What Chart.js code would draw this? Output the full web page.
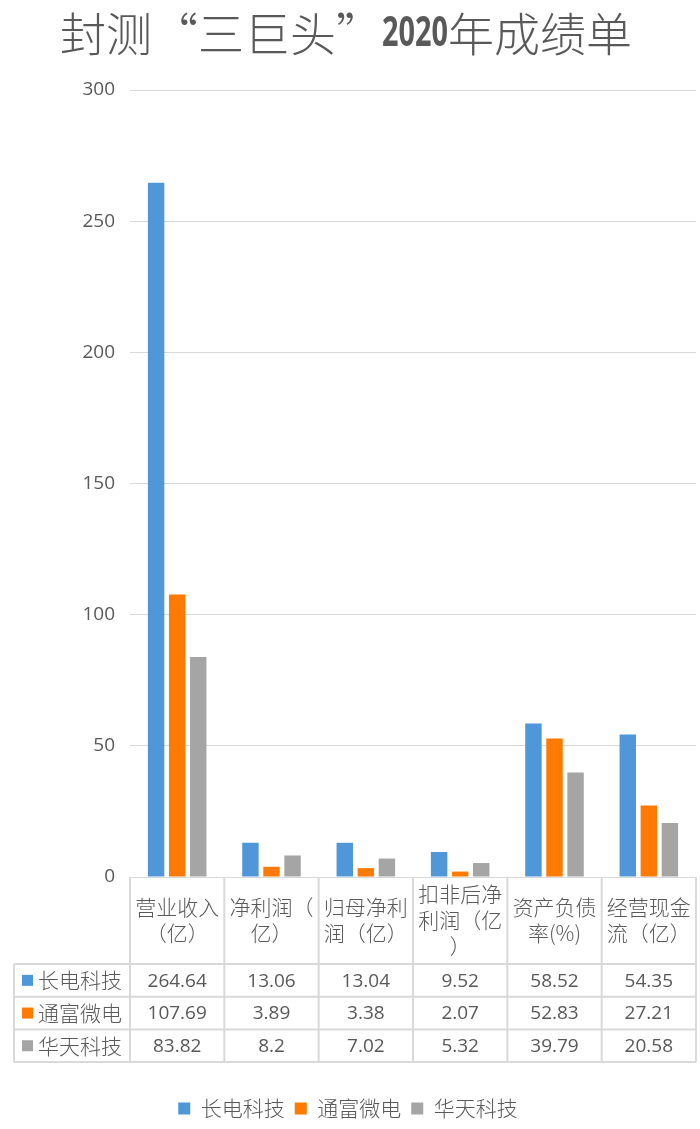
<!DOCTYPE html>
<html lang="zh">
<head>
<meta charset="UTF-8">
<title>封测“三巨头”2020年成绩单</title>
<script src="https://cdn.jsdelivr.net/npm/chart.js"></script>
<style>
  body { margin: 0; background: #fff; }
</style>
</head>
<body>
<canvas id="chart" width="700" height="1129"></canvas>
<script>
// chart data
const titleParts = ['封测“三巨头”', '2020', '年成绩单'];
const categories = ['营业收入（亿）', '净利润（亿）', '归母净利润（亿）', '扣非后净利润（亿）', '资产负债率(%)', '经营现金流（亿）'];
const companies = ['长电科技', '通富微电', '华天科技'];
const changdian = [264.64, 13.06, 13.04, 9.52, 58.52, 54.35];
const tongfu = [107.69, 3.89, 3.38, 2.07, 52.83, 27.21];
const huatian = [83.82, 8.2, 7.02, 5.32, 39.79, 20.58];
const yTicks = [0, 50, 100, 150, 200, 250, 300];

const colors = ['#4f97d9', '#ff7a00', '#a5a5a5'];
const textColor = '#595959';
const lineColor = '#d9d9d9';
const cjk = "'Noto Sans CJK SC', sans-serif";
const latin = "'Open Sans', 'Noto Sans CJK SC', sans-serif";
const CHART_BOTTOM = 877;

// title with bold "2020"
const titlePlugin = {
  id: 'mixedTitle',
  afterDraw(chart) {
    const ctx = chart.ctx;
    const fonts = ['300 46px ' + cjk, 'bold 42px ' + latin, '300 46px ' + cjk];
    const maxW = [null, 66, null];
    ctx.save();
    ctx.fillStyle = textColor;
    ctx.textBaseline = 'middle';
    ctx.textAlign = 'left';
    const widths = titleParts.map((t, i) => {
      ctx.font = fonts[i];
      const w = ctx.measureText(t).width;
      return maxW[i] ? Math.min(w, maxW[i]) : w;
    });
    let x = 346 - widths.reduce((a, b) => a + b, 0) / 2;
    titleParts.forEach((t, i) => {
      ctx.font = fonts[i];
      if (maxW[i]) ctx.fillText(t, x, 34, maxW[i]);
      else ctx.fillText(t, x, 34);
      x += widths[i];
    });
    ctx.restore();
  }
};

// wrap a label into lines that fit the cell width
function wrapText(ctx, text, maxWidth) {
  const lines = [];
  let line = '';
  for (const ch of text) {
    if (line && ctx.measureText(line + ch).width > maxWidth) {
      lines.push(line);
      line = ch;
    } else {
      line += ch;
    }
  }
  if (line) lines.push(line);
  return lines;
}

// data table under the x axis
const tablePlugin = {
  id: 'dataTable',
  afterDraw(chart) {
    const { ctx, chartArea } = chart;
    const series = chart.data.datasets;
    const colW = (chartArea.right - chartArea.left) / categories.length;
    const top = chartArea.bottom;
    const headBottom = top + 87;
    const rowH = 32.7;
    const tableLeft = 14;
    const bottom = headBottom + rowH * series.length;

    ctx.save();
    ctx.strokeStyle = lineColor;
    ctx.lineWidth = 2;

    // vertical lines
    for (let i = 0; i <= categories.length; i++) {
      const x = chartArea.left + i * colW;
      ctx.beginPath();
      ctx.moveTo(x, top);
      ctx.lineTo(x, bottom);
      ctx.stroke();
    }
    ctx.beginPath();
    ctx.moveTo(tableLeft, headBottom);
    ctx.lineTo(tableLeft, bottom);
    ctx.stroke();

    // horizontal lines
    for (let r = 0; r <= series.length; r++) {
      const y = headBottom + r * rowH;
      ctx.beginPath();
      ctx.moveTo(tableLeft, y);
      ctx.lineTo(chartArea.right, y);
      ctx.stroke();
    }

    ctx.fillStyle = textColor;
    ctx.textBaseline = 'middle';

    // header labels
    ctx.font = '300 21px ' + cjk;
    ctx.textAlign = 'center';
    const lh = 26;
    categories.forEach((c, i) => {
      const cx = chartArea.left + (i + 0.5) * colW;
      const lines = wrapText(ctx, c, colW - 6);
      const y0 = (top + headBottom) / 2 - (lines.length - 1) * lh / 2;
      lines.forEach((l, j) => ctx.fillText(l, cx, y0 + j * lh));
    });

    // rows
    series.forEach((ds, r) => {
      const cy = headBottom + (r + 0.5) * rowH;
      ctx.fillStyle = ds.backgroundColor;
      ctx.fillRect(22, cy - 5.5, 11, 11);
      ctx.fillStyle = textColor;
      ctx.textAlign = 'left';
      ctx.font = '300 21px ' + cjk;
      ctx.fillText(ds.label, 38, cy);
      ctx.textAlign = 'center';
      ctx.font = '19px ' + latin;
      ds.data.forEach((v, i) => {
        const cx = chartArea.left + (i + 0.5) * colW;
        ctx.fillText(String(v), cx, cy + 1);
      });
    });
    ctx.restore();
  }
};

const chart = new Chart(document.getElementById('chart'), {
  type: 'bar',
  data: {
    labels: categories,
    datasets: [changdian, tongfu, huatian].map((d, i) => ({
      label: companies[i],
      data: d,
      backgroundColor: colors[i],
      borderWidth: 0,
      categoryPercentage: 0.67,
      barPercentage: 0.78
    }))
  },
  options: {
    responsive: false,
    animation: false,
    layout: { padding: { top: 90, right: 4, left: 0, bottom: 0 } },
    plugins: {
      title: { display: false },
      tooltip: { enabled: false },
      legend: {
        position: 'bottom',
        labels: {
          boxWidth: 12,
          boxHeight: 12,
          padding: 10,
          color: textColor,
          font: { family: cjk, size: 21, weight: '300' }
        }
      }
    },
    scales: {
      x: {
        grid: { display: false },
        border: { display: false },
        ticks: { display: false },
        afterFit(scale) {
          const lg = scale.chart.legend ? scale.chart.legend.height : 0;
          scale.height = scale.chart.height - CHART_BOTTOM - lg;
        }
      },
      y: {
        min: yTicks[0],
        max: yTicks[yTicks.length - 1],
        afterBuildTicks(scale) {
          scale.ticks = yTicks.map(v => ({ value: v }));
        },
        grid: { color: lineColor, lineWidth: 1, drawTicks: false },
        border: { display: false },
        ticks: {
          padding: 15,
          color: textColor,
          font: { family: latin, size: 19 }
        },
        afterFit(scale) {
          scale.width = 130;
        }
      }
    }
  },
  plugins: [titlePlugin, tablePlugin]
});
</script>
</body>
</html>
